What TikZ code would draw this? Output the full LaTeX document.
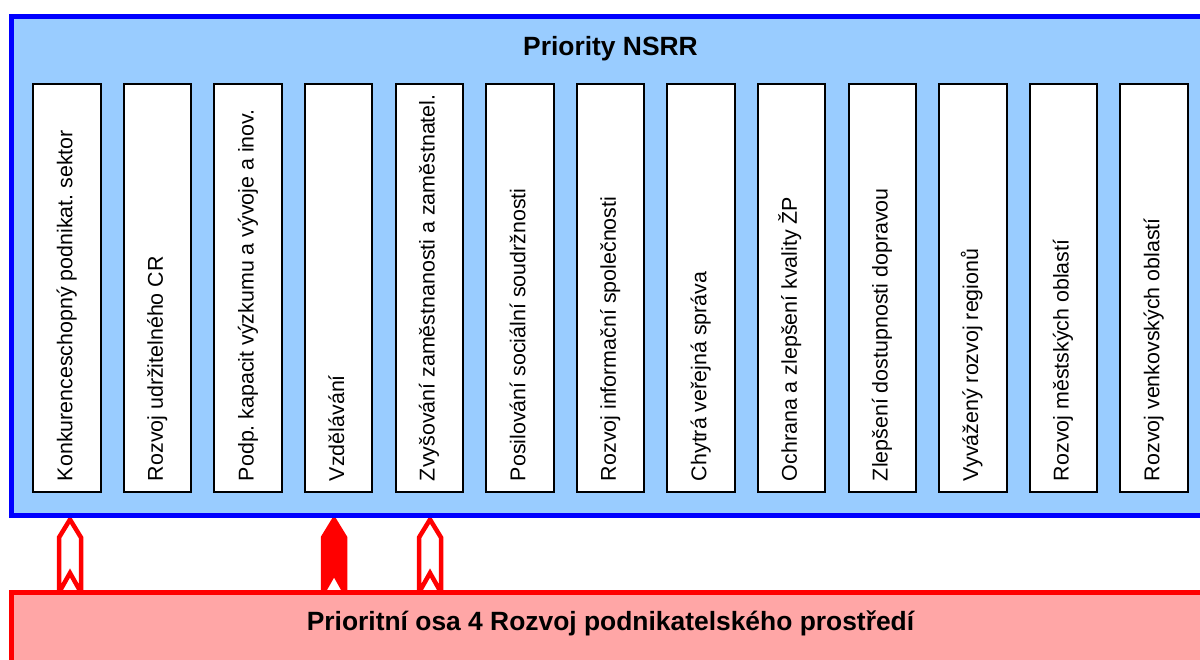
\documentclass[tikz,border=0pt]{standalone}
\usepackage{fontspec}
\setmainfont{Liberation Sans}
\usetikzlibrary{backgrounds}
\frenchspacing

% Define colors for styling
\definecolor{nsrrFill}{RGB}{153,204,255}   % Light blue for NSRR frame
\definecolor{nsrrBorder}{RGB}{0,0,255}     % Blue border
\definecolor{osaFill}{RGB}{255,166,166}    % Light red for priority axis
\definecolor{osaBorder}{RGB}{255,0,0}      % Red border and arrows

\begin{document}
\begin{tikzpicture}[
  x=1pt, y=1pt,
  frame/.style={
    line width=5pt, % Thick outer border
    outer sep=0pt,
    inner sep=0pt,
    anchor=north west
  },
  prio/.style={
    draw, % Draw borders for each priority
    fill=white,
    line width=2pt,
    rotate=90, % Text reads upwards
    minimum width=408pt, % Height of each column
    minimum height=67.4pt, % Width of each column
    inner xsep=11pt,
    inner ysep=0pt,
    outer sep=0pt,
    text height=15.2pt,
    text depth=4.5pt,
    font=\fontsize{21.4}{24}\selectfont
  },
  titleText/.style={font=\fontsize{26.4}{30}\selectfont\bfseries, inner sep=0pt, anchor=base},
  hollowArrow/.style={draw=osaBorder, fill=white, line width=4.5pt},
  solidArrow/.style={draw=osaBorder, fill=osaBorder, line width=4.5pt}
]

\useasboundingbox (0,0) rectangle (1200,-659);

% Outer frames
\node (nsrr) [frame, draw=nsrrBorder, fill=nsrrFill, minimum width=1199pt, minimum height=499pt] at (11,-16) {};
\node (osa) [frame, draw=osaBorder, fill=osaFill, minimum width=1199pt, minimum height=120pt] at (11,-592.5) {};

\node (nsrrTitle) [titleText] at ([yshift=-39pt]nsrr.north) {Priority NSRR};
\node (osaTitle) [titleText] at ([yshift=-37.5pt]osa.north) {Prioritní osa 4 Rozvoj podnikatelského prostředí};

% Priorities of NSRR
\node (p1)  [prio] at (67,-288)      {\makebox[386pt][l]{Konkurenceschopný podnikat. sektor}};
\node (p2)  [prio] at (157.58,-288)  {\makebox[386pt][l]{Rozvoj udržitelného CR}};
\node (p3)  [prio] at (248.16,-288)  {\makebox[386pt][l]{Podp. kapacit výzkumu a vývoje a inov.}};
\node (p4)  [prio] at (338.74,-288)  {\makebox[386pt][l]{Vzdělávání}};
\node (p5)  [prio] at (429.32,-288)  {\makebox[386pt][l]{Zvyšování zaměstnanosti a zaměstnatel.}};
\node (p6)  [prio] at (519.9,-288)   {\makebox[386pt][l]{Posilování sociální soudržnosti}};
\node (p7)  [prio] at (610.48,-288)  {\makebox[386pt][l]{Rozvoj informační společnosti}};
\node (p8)  [prio] at (701.06,-288)  {\makebox[386pt][l]{Chytrá veřejná správa}};
\node (p9)  [prio] at (791.64,-288)  {\makebox[386pt][l]{Ochrana a zlepšení kvality ŽP}};
\node (p10) [prio] at (882.22,-288)  {\makebox[386pt][l]{Zlepšení dostupnosti dopravou}};
\node (p11) [prio] at (972.8,-288)   {\makebox[386pt][l]{Vyvážený rozvoj regionů}};
\node (p12) [prio] at (1063.38,-288) {\makebox[386pt][l]{Rozvoj městských oblastí}};
\node (p13) [prio] at (1153.96,-288) {\makebox[386pt][l]{Rozvoj venkovských oblastí}};

% Arrows from the priority axis up to the NSRR priorities
\path (p1.center |- osa.north) ++(3,0) coordinate (b1);
\path (b1 |- nsrr.south) coordinate (t1);
\path (p4.center |- osa.north) ++(-4.7,0) coordinate (b2);
\path (b2 |- nsrr.south) coordinate (t2);
\path (p5.center |- osa.north) ++(0.7,0) coordinate (b3);
\path (b3 |- nsrr.south) coordinate (t3);

\begin{scope}[on background layer]
\draw[hollowArrow] ([xshift=-11pt]b1) -- ([xshift=-11pt,yshift=-22.5pt]t1) -- ([yshift=-4.5pt]t1)
  -- ([xshift=11pt,yshift=-22.5pt]t1) -- ([xshift=11pt]b1) -- ([yshift=19.5pt]b1) -- cycle;
\draw[solidArrow] ([xshift=-11pt]b2) -- ([xshift=-11pt,yshift=-22.5pt]t2) -- ([yshift=-4.5pt]t2)
  -- ([xshift=11pt,yshift=-22.5pt]t2) -- ([xshift=11pt]b2) -- ([yshift=19.5pt]b2) -- cycle;
\draw[hollowArrow] ([xshift=-11pt]b3) -- ([xshift=-11pt,yshift=-22.5pt]t3) -- ([yshift=-4.5pt]t3)
  -- ([xshift=11pt,yshift=-22.5pt]t3) -- ([xshift=11pt]b3) -- ([yshift=19.5pt]b3) -- cycle;
\end{scope}

\end{tikzpicture}
\end{document}
